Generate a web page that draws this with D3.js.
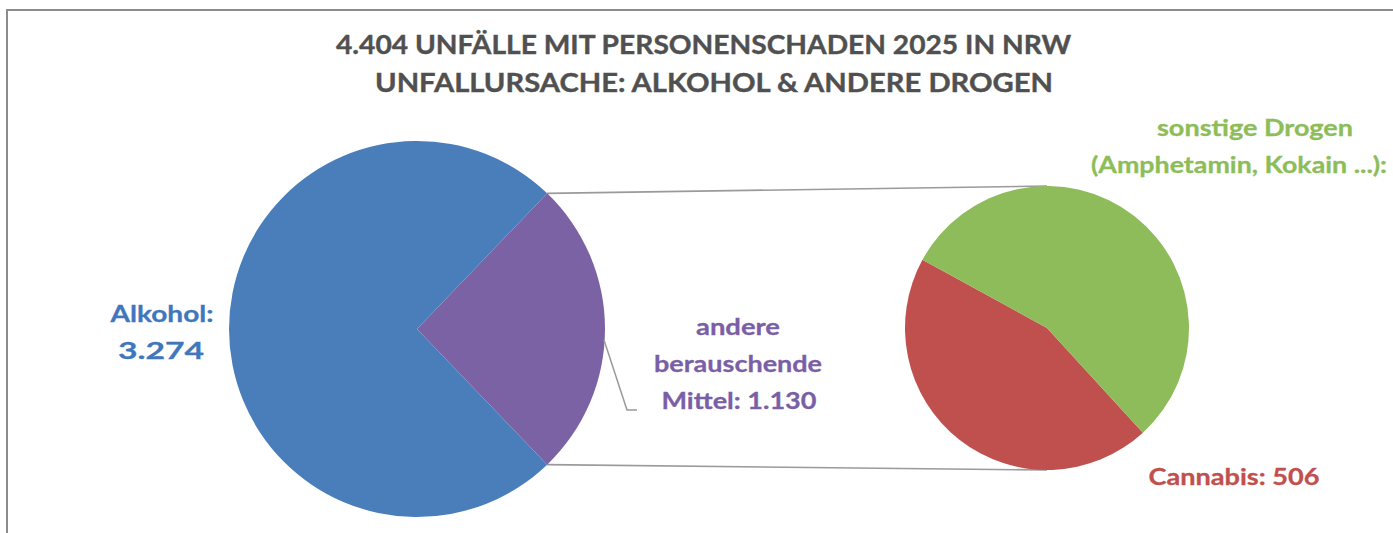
<!DOCTYPE html>
<html>
<head>
<meta charset="utf-8">
<script src="https://cdn.jsdelivr.net/npm/d3@7/dist/d3.min.js"></script>
<style>
  html, body { margin: 0; padding: 0; background: #fff; }
  svg { display: block; }
  text { font-family: Lato, "Open Sans", sans-serif; font-weight: bold; }
</style>
</head>
<body>
<div id="chart"></div>
<script>
// chart values
const titleLines = ["4.404 UNFÄLLE MIT PERSONENSCHADEN 2025 IN NRW", "UNFALLURSACHE: ALKOHOL & ANDERE DROGEN"];
const mainLabels = ["andere berauschende Mittel", "Alkohol"];
const mainValues = [1130, 3274];
const subLabels = ["Cannabis", "sonstige Drogen (Amphetamin, Kokain ...)"];
const subValues = [506, 624];

const width = 1393, height = 533;
const de = d3.formatLocale({decimal: ",", thousands: ".", grouping: [3], currency: ["", " €"]});
const fmt = de.format(",");

const svg = d3.select("#chart").append("svg")
    .attr("width", width)
    .attr("height", height);

// frame of the chart area
svg.append("path")
    .attr("d", `M7,${height + 5} L7,10 L${width + 5},10`)
    .attr("fill", "none")
    .attr("stroke", "#8c8c8c")
    .attr("stroke-width", 2);

// title
const titleX = [[336, 1071], [375, 1053]];
const titleY = [54, 92];
titleLines.forEach((t, i) => {
    svg.append("text")
        .attr("x", titleX[i][0])
        .attr("y", titleY[i])
        .attr("font-size", 27)
        .attr("fill", "#505050")
        .attr("stroke", "#505050")
        .attr("stroke-width", 0.4)
        .attr("textLength", titleX[i][1] - titleX[i][0])
        .attr("lengthAdjust", "spacingAndGlyphs")
        .text(t);
});

// main pie: the "andere" slice centred on 3 o'clock
const main = {cx: 417, cy: 329, r: 188};
const mainShare = mainValues[0] / d3.sum(mainValues);
const mainStart = Math.PI / 2 - mainShare * Math.PI;
const mainPie = d3.pie().sort(null)
    .startAngle(mainStart)
    .endAngle(mainStart + 2 * Math.PI);
const mainArcs = mainPie(mainValues);
const mainColors = d3.scaleOrdinal().domain(mainLabels).range(["#7a62a4", "#4a7ebb"]);
const mainArc = d3.arc().innerRadius(0).outerRadius(main.r);

// secondary pie
const sub = {cx: 1047, cy: 328, r: 142};
const subStart = 137.5 * Math.PI / 180;
const subPie = d3.pie().sort(null)
    .startAngle(subStart)
    .endAngle(subStart + 2 * Math.PI);
const subArcs = subPie(subValues);
const subColors = d3.scaleOrdinal().domain(subLabels).range(["#c0504d", "#8fbc5a"]);
const subArc = d3.arc().innerRadius(0).outerRadius(sub.r);

// connector lines from the "andere" slice to the secondary pie
const a0 = mainArcs[0].startAngle, a1 = mainArcs[0].endAngle;
const corner = a => [main.cx + main.r * Math.sin(a), main.cy - main.r * Math.cos(a)];
const connectors = [
    [corner(a0), [sub.cx, sub.cy - sub.r]],
    [corner(a1), [sub.cx, sub.cy + sub.r]]
];
svg.selectAll(".connector")
    .data(connectors)
    .enter()
    .append("line")
    .attr("class", "connector")
    .attr("x1", d => d[0][0])
    .attr("y1", d => d[0][1])
    .attr("x2", d => d[1][0])
    .attr("y2", d => d[1][1])
    .attr("stroke", "#9a9a9a")
    .attr("stroke-width", 1.6);

svg.append("g")
    .attr("transform", `translate(${main.cx},${main.cy})`)
    .selectAll("path")
    .data(mainArcs)
    .enter()
    .append("path")
    .attr("d", mainArc)
    .attr("fill", (d, i) => mainColors(mainLabels[i]));

svg.append("g")
    .attr("transform", `translate(${sub.cx},${sub.cy})`)
    .selectAll("path")
    .data(subArcs)
    .enter()
    .append("path")
    .attr("d", subArc)
    .attr("fill", (d, i) => subColors(subLabels[i]));

// leader line for the "andere" label
svg.append("polyline")
    .attr("points", "604,340 627,410 637,410")
    .attr("fill", "none")
    .attr("stroke", "#9a9a9a")
    .attr("stroke-width", 1.5);

// labels: each line is [text, centre x, textLength]
function label(lines, y0, color) {
    lines.forEach((l, i) => {
        svg.append("text")
            .attr("x", l[1])
            .attr("y", y0 + i * 37)
            .attr("text-anchor", "middle")
            .attr("font-size", 23)
            .attr("fill", color)
            .attr("stroke", color)
            .attr("stroke-width", 0.3)
            .attr("textLength", l[2])
            .attr("lengthAdjust", "spacingAndGlyphs")
            .text(l[0]);
    });
}

label([[mainLabels[1] + ":", 162, 103], [fmt(mainValues[1]), 161, 86]], 322, "#3f77bd");
label([["andere", 738, 84], ["berauschende", 738, 168], ["Mittel: " + fmt(mainValues[0]), 739, 155]], 335, "#7a5fa6");
label([["sonstige Drogen", 1255, 196], ["(Amphetamin, Kokain ...):", 1239, 296]], 136, "#8dbd58");
label([[subLabels[0] + ": " + fmt(subValues[0]), 1234, 171]], 485, "#c0504d");
</script>
</body>
</html>
